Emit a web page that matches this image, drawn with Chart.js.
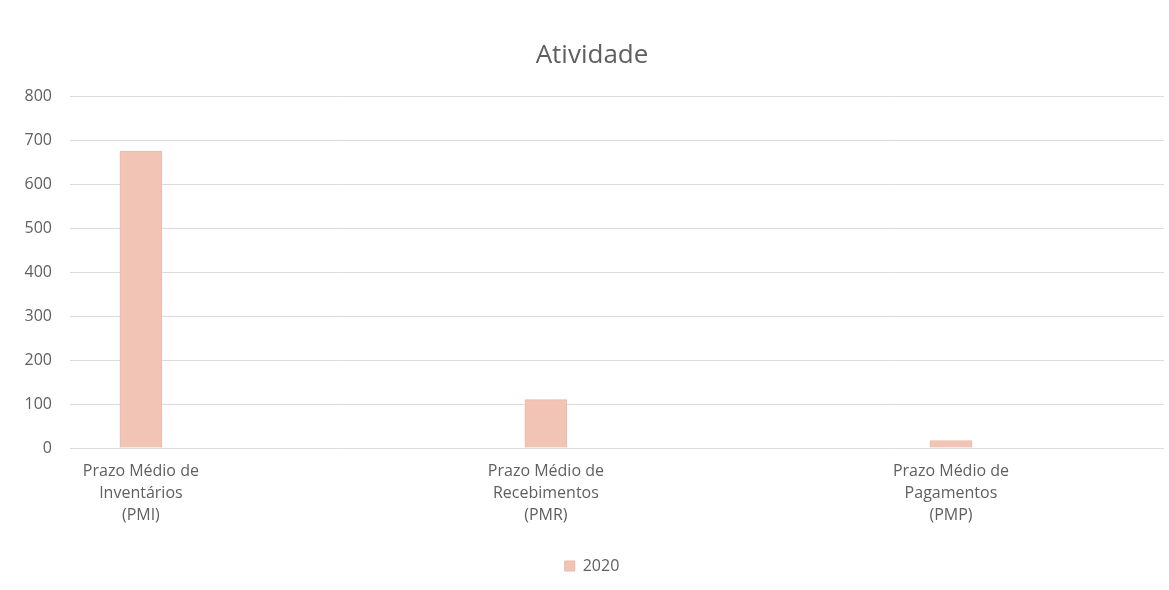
<!DOCTYPE html>
<html>
<head>
<meta charset="utf-8">
<script src="https://cdn.jsdelivr.net/npm/chart.js@4.4.0/dist/chart.umd.min.js"></script>
<style>
  html, body { margin: 0; padding: 0; background: #fff; }
  #wrap { width: 1169px; height: 590px; }
</style>
</head>
<body>
<div id="wrap"><canvas id="atividadeChart"></canvas></div>
<script>
// Categories (multi-line labels) and 2020 values
const categories = [
    ['Prazo Médio de', 'Inventários', '(PMI)'],
    ['Prazo Médio de', 'Recebimentos', '(PMR)'],
    ['Prazo Médio de', 'Pagamentos', '(PMP)']
];
const values2020 = [675, 110, 17];
const yTicks = [0, 100, 200, 300, 400, 500, 600, 700, 800];

const textColor = '#5f5f5f';
const barColor = '#F1C4B5';

const ctx = document.getElementById('atividadeChart').getContext('2d');
new Chart(ctx, {
    type: 'bar',
    data: {
        datasets: [{
            label: '2020',
            data: values2020.map((v, i) => ({ x: i, y: v })),
            backgroundColor: barColor,
            borderColor: '#EDB9A8',
            borderWidth: 1,
            barThickness: 42
        }]
    },
    options: {
        responsive: true,
        maintainAspectRatio: false,
        animation: false,
        layout: {
            padding: { left: 20, right: 5, top: 0, bottom: 6 }
        },
        plugins: {
            title: {
                display: true,
                text: 'Atividade',
                color: textColor,
                font: { family: 'Open Sans', size: 26, weight: 'normal' },
                padding: { top: 40, bottom: 25 }
            },
            legend: {
                display: true,
                position: 'bottom',
                labels: {
                    color: textColor,
                    font: { family: 'Open Sans', size: 16 },
                    usePointStyle: true,
                    pointStyle: 'rect',
                    boxWidth: 10,
                    boxHeight: 10,
                    padding: 10
                }
            },
            tooltip: { enabled: false }
        },
        scales: {
            x: {
                type: 'linear',
                offset: false,
                min: -0.175,
                max: 2.526,
                grid: { display: false },
                border: { display: false },
                afterBuildTicks: (scale) => {
                    scale.ticks = categories.map((c, i) => ({ value: i }));
                },
                afterFit: (scale) => { scale.height = 100; },
                ticks: {
                    color: textColor,
                    font: { family: 'Open Sans', size: 16, lineHeight: 1.35 },
                    maxRotation: 0,
                    padding: 5,
                    callback: (value) => categories[value]
                }
            },
            y: {
                min: 0,
                max: 800,
                afterBuildTicks: (scale) => {
                    scale.ticks = yTicks.map(v => ({ value: v }));
                },
                afterFit: (scale) => { scale.width = 50; },
                grid: { color: '#dcdcdc', drawTicks: false },
                border: { display: false },
                ticks: {
                    color: textColor,
                    font: { family: 'Open Sans', size: 16 },
                    padding: 18
                }
            }
        }
    }
});
</script>
</body>
</html>
